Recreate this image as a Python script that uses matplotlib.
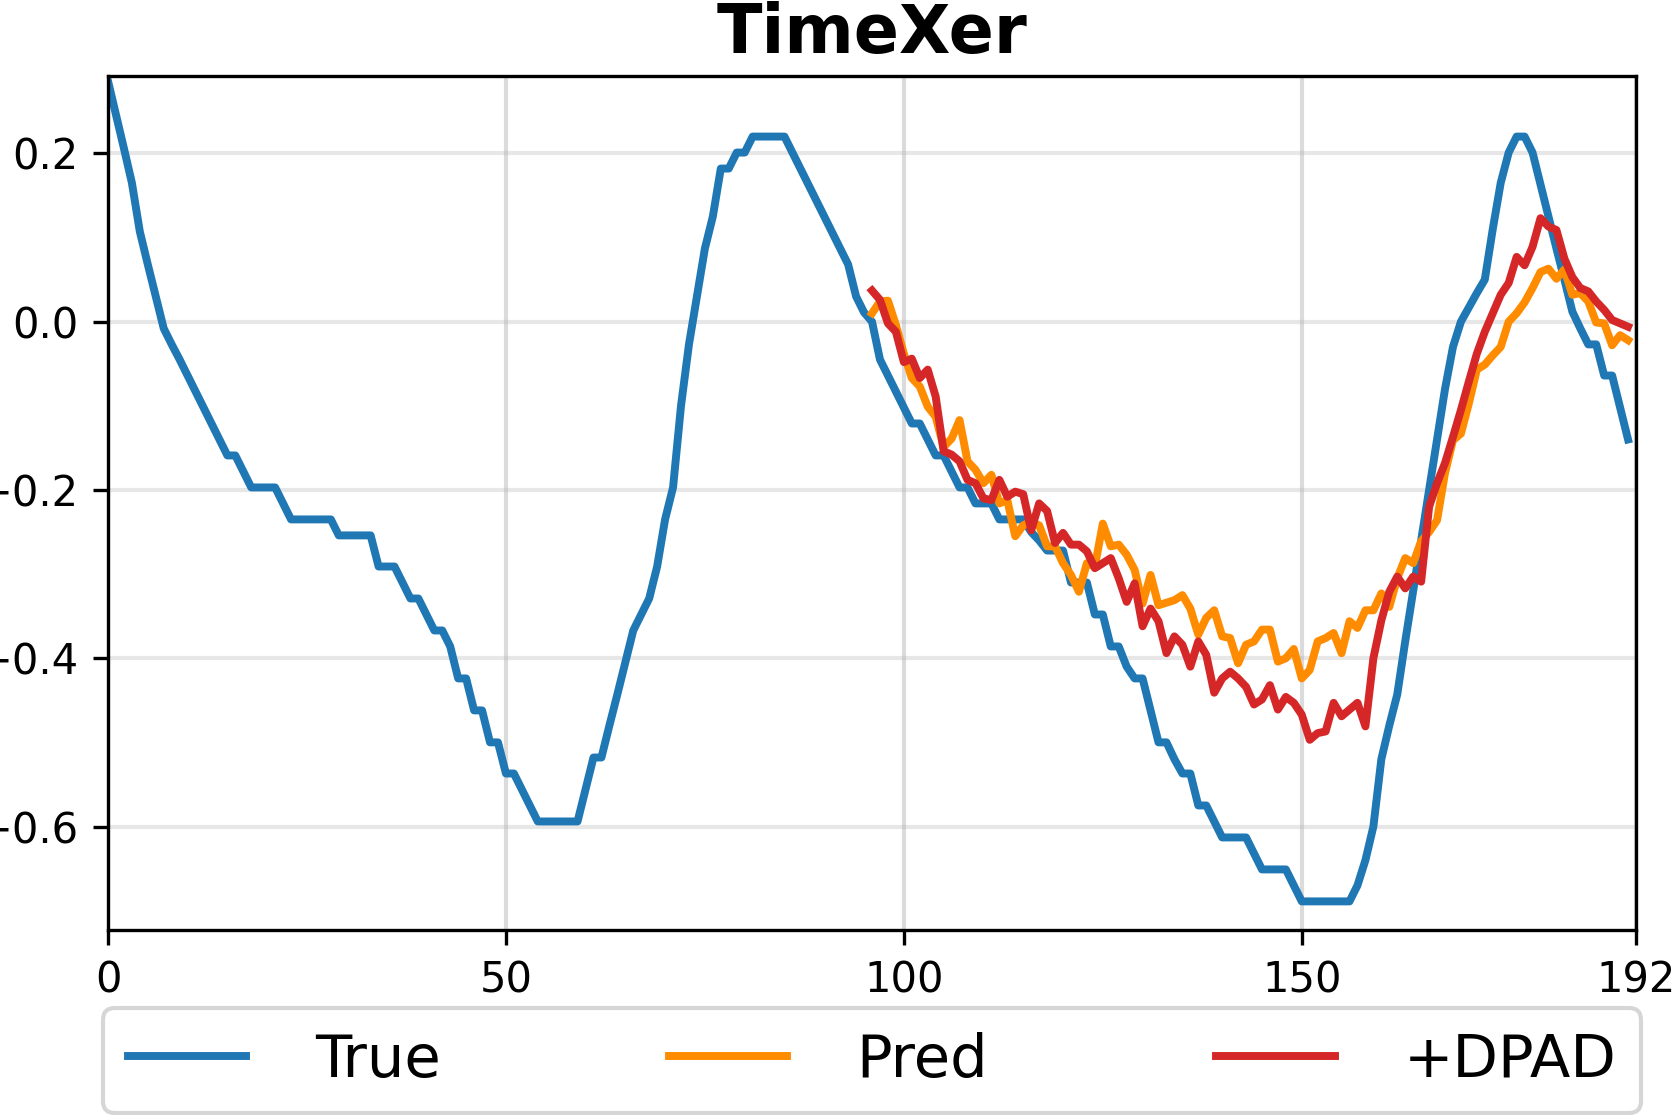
import matplotlib
matplotlib.use("Agg")
import matplotlib.pyplot as plt

# ground truth, steps 0..191
true_vals = [
    0.286, 0.246, 0.206, 0.165, 0.107, 0.068, 0.030, -0.008, -0.027, -0.045,
    -0.064, -0.083, -0.102, -0.121, -0.140, -0.159, -0.159, -0.178, -0.197, -0.197,
    -0.197, -0.197, -0.216, -0.235, -0.235, -0.235, -0.235, -0.235, -0.235, -0.254,
    -0.254, -0.254, -0.254, -0.254, -0.291, -0.291, -0.291, -0.310, -0.329, -0.329,
    -0.348, -0.367, -0.367, -0.386, -0.424, -0.424, -0.462, -0.462, -0.500, -0.500,
    -0.537, -0.537, -0.556, -0.575, -0.594, -0.594, -0.594, -0.594, -0.594, -0.594,
    -0.556, -0.518, -0.518, -0.480, -0.443, -0.405, -0.367, -0.348, -0.329, -0.291,
    -0.235, -0.197, -0.100, -0.027, 0.030, 0.087, 0.125, 0.182, 0.182, 0.201,
    0.201, 0.220, 0.220, 0.220, 0.220, 0.220, 0.201, 0.182, 0.163, 0.144,
    0.125, 0.106, 0.087, 0.068, 0.030, 0.011, 0.000, -0.045, -0.064, -0.083,
    -0.102, -0.121, -0.121, -0.140, -0.159, -0.159, -0.178, -0.197, -0.197, -0.216,
    -0.216, -0.216, -0.235, -0.235, -0.235, -0.235, -0.250, -0.260, -0.272, -0.272,
    -0.272, -0.310, -0.310, -0.310, -0.348, -0.348, -0.386, -0.386, -0.410, -0.424,
    -0.424, -0.462, -0.500, -0.500, -0.520, -0.537, -0.537, -0.575, -0.575, -0.594,
    -0.613, -0.613, -0.613, -0.613, -0.632, -0.651, -0.651, -0.651, -0.651, -0.670,
    -0.689, -0.689, -0.689, -0.689, -0.689, -0.689, -0.689, -0.670, -0.640, -0.600,
    -0.520, -0.480, -0.443, -0.380, -0.320, -0.260, -0.200, -0.140, -0.080, -0.030,
    0.000, 0.017, 0.034, 0.050, 0.110, 0.165, 0.201, 0.220, 0.220, 0.201,
    0.163, 0.125, 0.087, 0.050, 0.012, -0.008, -0.027, -0.027, -0.064, -0.064,
    -0.102, -0.140,
]

# forecasts, steps 96..191
pred_start = 96
pred_vals = [
    0.010, 0.024, 0.025, -0.004, -0.038, -0.067, -0.077, -0.101, -0.113, -0.149,
    -0.139, -0.117, -0.166, -0.176, -0.192, -0.182, -0.216, -0.212, -0.255, -0.242,
    -0.238, -0.242, -0.267, -0.267, -0.287, -0.301, -0.321, -0.287, -0.291, -0.240,
    -0.267, -0.265, -0.277, -0.295, -0.335, -0.301, -0.337, -0.334, -0.331, -0.325,
    -0.341, -0.372, -0.352, -0.343, -0.374, -0.376, -0.406, -0.384, -0.380, -0.366,
    -0.366, -0.404, -0.400, -0.389, -0.424, -0.414, -0.380, -0.376, -0.370, -0.394,
    -0.356, -0.364, -0.343, -0.343, -0.323, -0.339, -0.305, -0.281, -0.287, -0.261,
    -0.250, -0.236, -0.180, -0.141, -0.133, -0.097, -0.057, -0.051, -0.040, -0.030,
    0.000, 0.010, 0.023, 0.040, 0.059, 0.063, 0.051, 0.062, 0.032, 0.034,
    0.024, -0.001, -0.002, -0.028, -0.016, -0.022,
]
dpad_vals = [
    0.037, 0.026, -0.002, -0.012, -0.048, -0.044, -0.067, -0.057, -0.089, -0.154,
    -0.158, -0.166, -0.188, -0.192, -0.210, -0.212, -0.188, -0.208, -0.202, -0.205,
    -0.248, -0.216, -0.225, -0.263, -0.251, -0.265, -0.265, -0.273, -0.293, -0.287,
    -0.281, -0.305, -0.333, -0.311, -0.362, -0.341, -0.356, -0.394, -0.374, -0.384,
    -0.410, -0.380, -0.396, -0.441, -0.424, -0.416, -0.424, -0.434, -0.455, -0.449,
    -0.432, -0.461, -0.446, -0.453, -0.467, -0.497, -0.489, -0.487, -0.453, -0.469,
    -0.461, -0.453, -0.481, -0.400, -0.355, -0.321, -0.303, -0.317, -0.303, -0.309,
    -0.220, -0.192, -0.168, -0.137, -0.105, -0.071, -0.038, -0.012, 0.010, 0.032,
    0.046, 0.077, 0.067, 0.089, 0.123, 0.113, 0.109, 0.075, 0.053, 0.040,
    0.036, 0.024, 0.014, 0.002, -0.002, -0.006,
]

x_true = list(range(len(true_vals)))
x_pred = list(range(pred_start, pred_start + len(pred_vals)))

fig = plt.figure(figsize=(1673 / 300, 1115 / 300), dpi=300)
ax = fig.add_axes([0.06456, 0.16592, 0.91333, 0.76592])

ax.plot(x_true, true_vals, color="#1f77b4", lw=1.9, label="True")
ax.plot(x_pred, pred_vals, color="darkorange", lw=1.9, label="Pred")
ax.plot(x_pred, dpad_vals, color="#d62728", lw=1.9, label="+DPAD")

ax.set_xlim(0, 192)
ax.set_ylim(-0.723, 0.292)
ax.set_xticks([0, 50, 100, 150, 192])
ax.set_yticks([0.2, 0.0, -0.2, -0.4, -0.6])
ax.tick_params(labelsize=10)
ax.grid(axis="y", color="#b0b0b0", alpha=0.3, lw=1.0)
ax.grid(axis="x", color="#b0b0b0", alpha=0.45, lw=1.0)
ax.set_axisbelow(True)

ax.set_title("TimeXer", fontsize=16, fontweight="bold", pad=5.5)

ax.legend(loc="upper left", bbox_to_anchor=(-0.003, -0.213, 1.006, 0.122),
          mode="expand", ncol=3, borderaxespad=0, fontsize=14.2,
          borderpad=0.41, handlelength=2.0, handletextpad=1.16)

fig.savefig("out.png", dpi=300)
